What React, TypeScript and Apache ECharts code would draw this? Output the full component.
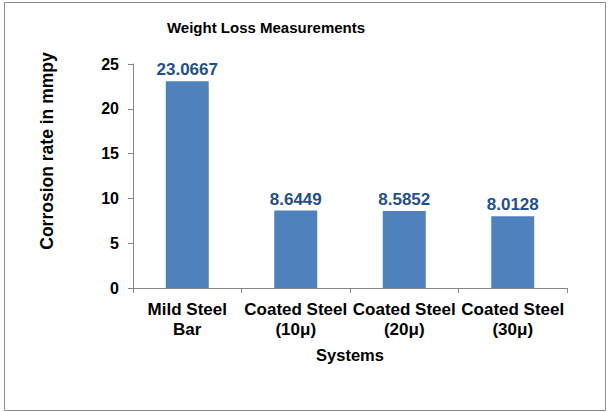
import React, { useEffect, useRef } from "react";
import * as echarts from "echarts";

const categories = ["Mild Steel\nBar", "Coated Steel\n(10μ)", "Coated Steel\n(20μ)", "Coated Steel\n(30μ)"];
const values = [23.0667, 8.6449, 8.5852, 8.0128];
const labels = ["23.0667", "8.6449", "8.5852", "8.0128"];
const yAxisTitle = "Corrosion rate in mmpy";

export default function App() {
  const ref = useRef<HTMLDivElement>(null);
  useEffect(() => {
    document.body.style.margin = "0";
    const chart = echarts.init(ref.current!, undefined, { renderer: "svg" });
    const font = "Liberation Sans, Arial, sans-serif";
    chart.setOption({
      animation: false,
      backgroundColor: "#ffffff",
      textStyle: { fontFamily: font },
      title: {
        text: "Weight Loss Measurements",
        left: 261,
        top: 15,
        textAlign: "center",
        textStyle: { fontSize: 15, fontWeight: "bold", color: "#000", fontFamily: font },
      },
      graphic: [
        {
          type: "rect",
          shape: { x: 4.5, y: 2.5, width: 601, height: 408 },
          style: { fill: "none", stroke: "#8c8c8c", lineWidth: 1 },
          silent: true,
        },
        {
          type: "text",
          x: 47,
          y: 151,
          rotation: Math.PI / 2,
          style: {
            text: yAxisTitle,
            fontSize: 17.5,
            fontWeight: "bold",
            fill: "#000",
            fontFamily: font,
            textAlign: "center",
            textVerticalAlign: "middle",
          },
          silent: true,
        },
      ],
      grid: { left: 133, right: 41, top: 64, bottom: 124 },
      xAxis: {
        type: "category",
        data: categories,
        name: "Systems",
        nameLocation: "middle",
        nameGap: 58,
        nameTextStyle: { fontSize: 16.5, fontWeight: "bold", color: "#000", fontFamily: font },
        axisLine: { lineStyle: { color: "#868686" } },
        axisTick: { show: true, length: 5, lineStyle: { color: "#868686" } },
        axisLabel: { fontSize: 17, fontWeight: "bold", color: "#000", lineHeight: 20, margin: 11, interval: 0, fontFamily: font },
      },
      yAxis: {
        type: "value",
        min: 0,
        max: 25,
        interval: 5,
        axisLine: { show: true, lineStyle: { color: "#868686" } },
        axisTick: { show: true, length: 5, lineStyle: { color: "#868686" } },
        splitLine: { show: false },
        axisLabel: { fontSize: 16, fontWeight: "bold", color: "#000", margin: 14, fontFamily: font },
      },
      series: [
        {
          type: "bar",
          data: values,
          barWidth: 43,
          itemStyle: { color: "#4F81BD" },
          label: {
            show: true,
            position: "top",
            distance: 3,
            formatter: (p: any) => labels[p.dataIndex],
            fontSize: 17,
            fontWeight: "bold",
            color: "#24508A",
            fontFamily: font,
          },
        },
      ],
    });
    return () => chart.dispose();
  }, []);
  return <div ref={ref} style={{ width: 608, height: 412 }} />;
}
